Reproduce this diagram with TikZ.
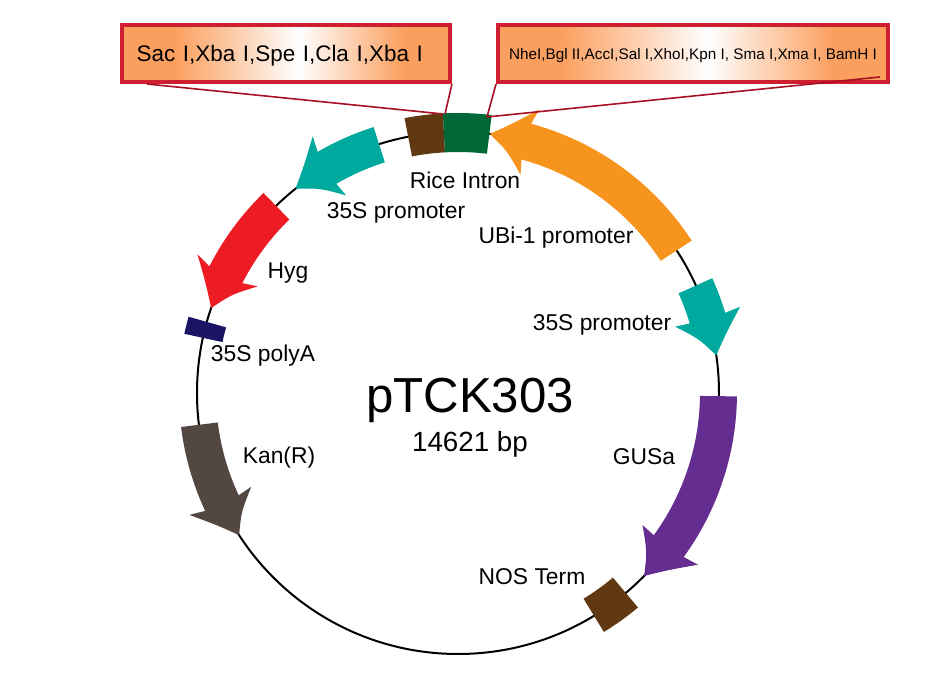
\documentclass[tikz,border=0pt]{standalone}
\usepackage{fontspec}
\setmainfont{Liberation Sans}
\usepackage{xcolor}
\usetikzlibrary{positioning}

\definecolor{boxorange}{HTML}{FB9F5E}
\definecolor{boxred}{HTML}{CE1F2E}
\definecolor{siteline}{HTML}{A80F22}
\definecolor{ubiorange}{HTML}{F7941E}
\definecolor{promoteal}{HTML}{00A99D}
\definecolor{hygred}{HTML}{ED1C24}
\definecolor{polyanavy}{HTML}{1B1464}
\definecolor{kangrey}{HTML}{534741}
\definecolor{gusviolet}{HTML}{662D91}
\definecolor{intronbrown}{HTML}{603913}
\definecolor{mcsgreen}{HTML}{006837}

\pgfdeclarehorizontalshading{boxglow}{100bp}{color(0bp)=(boxorange); color(33bp)=(boxorange); color(52bp)=(white); color(68bp)=(boxorange); color(100bp)=(boxorange)}

% tail angle, barb angle, neck angle, tip angle, colour
\newcommand{\featarrow}[5]{%
  \pgfmathsetmacro{\headmid}{(#2+#4)/2}%
  \fill[#5] (#1:279) arc[start angle=#1,end angle=#3,radius=279] -- (#2:295)
    .. controls (\headmid:275) .. (#4:261)
    .. controls (\headmid:247) .. (#2:227) -- (#3:242)
    arc[start angle=#3,end angle=#1,radius=242] -- cycle;
}
% start angle, end angle, colour
\newcommand{\featblock}[3]{%
  \fill[#3] (#1:280) arc[start angle=#1,end angle=#2,radius=280] -- (#2:241)
    arc[start angle=#2,end angle=#1,radius=241] -- cycle;
}

\begin{document}
\begin{tikzpicture}[
    x=0.02cm,y=0.02cm,
    featlabel/.style={anchor=base,font=\fontsize{13}{15}\selectfont},
    sitebox/.style={rectangle,draw=boxred,line width=0.08cm,shading=boxglow,
      minimum height=1.14cm,inner sep=0pt,text depth=0pt},
    sitewire/.style={draw=siteline,line width=0.032cm}
]
\useasboundingbox (-458,-285) rectangle (482,393);

% Backbone circle
\draw[line width=0.04cm] (0,0) circle[radius=261];

% Features round the backbone
\featarrow{33.1}{74}{74.8}{83}{ubiorange}
\featarrow{107.6}{119.5}{120.2}{128.5}{promoteal}
\featarrow{134.2}{152}{153}{161}{hygred}
\featarrow{187}{204.4}{205}{213}{kangrey}
\featarrow{24.3}{17}{16.7}{8.3}{promoteal}
\featarrow{-0.7}{-35.6}{-36}{-44.5}{gusviolet}
\featblock{101}{93.1}{intronbrown}
\featblock{93.1}{83.1}{mcsgreen}
\featblock{164.2}{167.8}{polyanavy}
\featblock{-50}{-58.6}{intronbrown}

% Restriction site boxes
\node[sitebox,minimum width=6.56cm,text width=5.98cm,align=left,font=\fontsize{12.8}{15}\selectfont] (sacbox) at (-172,339.5) {Sac I,Xba I,Spe I,Cla I,Xba I};
\node[sitebox,minimum width=7.8cm,font=\fontsize{8.7}{10}\selectfont] (nhebox) at (235,339.5) {NheI,Bgl II,AccI,Sal I,XhoI,Kpn I, Sma I,Xma I, BamH I};

% Lines from the boxes down to the insert
\coordinate (sacfoot) at (-311,309);
\coordinate (ricetop) at (-15,279);
\coordinate (ricetopb) at (-13,279);
\coordinate (mcstop) at (29,276);
\coordinate (nhefoot) at (422,316);
\draw[sitewire] (sacfoot) -- (ricetop);
\draw[sitewire] (sacbox.south east) -- (ricetopb);
\draw[sitewire] (nhebox.south west) -- (mcstop);
\draw[sitewire] (nhefoot) -- (mcstop);

% Feature labels
\node[featlabel] (rice)   at (7,204)    {Rice Intron};
\node[featlabel] (leftp)  at (-62,174)  {35S promoter};
\node[featlabel] (ubi)    at (98,149)   {UBi-1 promoter};
\node[featlabel] (rightp) at (144,62)   {35S promoter};
\node[featlabel] (hyg)    at (-170,114) {Hyg};
\node[featlabel] (polya)  at (-195,31)  {35S polyA};
\node[featlabel] (kan)    at (-179,-71) {Kan(R)};
\node[featlabel] (gus)    at (186,-72)  {GUSa};
\node[featlabel] (nos)    at (74,-192)  {NOS Term};

% Plasmid name and size
\node[anchor=base,font=\fontsize{28}{32}\selectfont] (name) at (12,-20) {pTCK303};
\node[anchor=base,font=\fontsize{15.8}{18}\selectfont] (size) at (12,-59) {14621 bp};

\end{tikzpicture}
\end{document}
